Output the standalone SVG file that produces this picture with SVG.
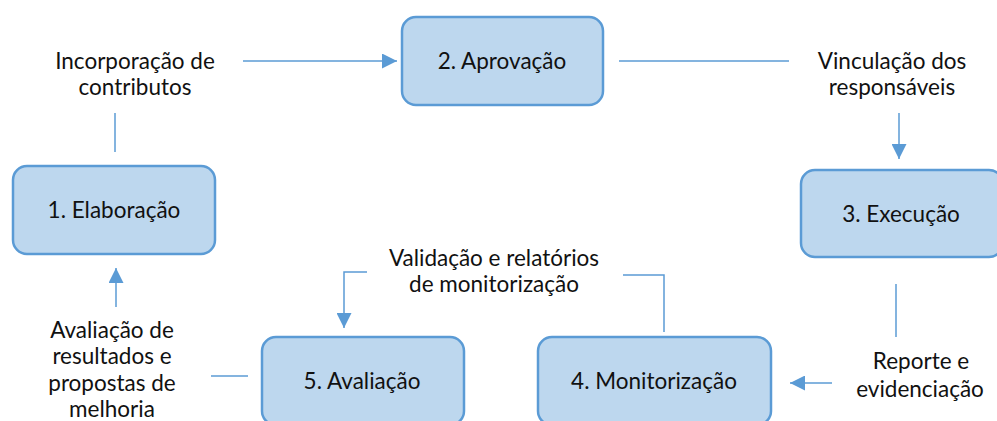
<svg xmlns="http://www.w3.org/2000/svg" width="997" height="421" viewBox="0 0 997 421">
<style>
.node rect{fill:#BDD7EE;stroke:#5B9BD5;stroke-width:2.5}
text{font-family:Lato,"Open Sans","Noto Sans",sans-serif;font-size:22.5px;fill:#111;text-anchor:middle}
.conn line,.conn polyline{stroke:#5B9BD5;stroke-width:1.5;fill:none}
</style>
<defs>
<marker id="ahb" viewBox="0 0 16 16" refX="16" refY="8" markerWidth="16" markerHeight="15" markerUnits="userSpaceOnUse" orient="auto">
<path d="M0,0 L16,8 L0,16 z" fill="#5B9BD5"/>
</marker>
</defs>
<g class="conn">
<line x1="115" y1="152" x2="115" y2="113"/>
<line x1="243" y1="61" x2="397" y2="61" marker-end="url(#ahb)"/>
<line x1="619" y1="61" x2="789" y2="61"/>
<line x1="899" y1="113" x2="899" y2="159" marker-end="url(#ahb)"/>
<line x1="896" y1="284" x2="896" y2="337"/>
<line x1="832" y1="383" x2="790" y2="383" marker-end="url(#ahb)"/>
<polyline points="664,332 664,275 623,275"/>
<polyline points="367,272 344,272 344,328" marker-end="url(#ahb)"/>
<line x1="248" y1="376" x2="211" y2="376"/>
<line x1="116" y1="307" x2="116" y2="268" marker-end="url(#ahb)"/>
</g>
<g id="n1" class="node"><rect x="13" y="166" width="202" height="88" rx="14"/><text x="114" y="218">1. Elaboração</text></g>
<g id="n2" class="node"><rect x="402" y="17" width="201" height="88" rx="14"/><text x="502" y="69">2. Aprovação</text></g>
<g id="n3" class="node"><rect x="801" y="170" width="202" height="87" rx="14"/><text x="901" y="222">3. Execução</text></g>
<g id="n4" class="node"><rect x="538" y="337" width="233" height="88" rx="14"/><text x="654" y="389">4. Monitorização</text></g>
<g id="n5" class="node"><rect x="262" y="337" width="202" height="88" rx="14"/><text x="362" y="389">5. Avaliação</text></g>
<g id="labels">
<text x="135" y="69">Incorporação de</text>
<text x="135" y="95">contributos</text>
<text x="892" y="69">Vinculação dos</text>
<text x="892" y="95">responsáveis</text>
<text x="494" y="266">Validação e relatórios</text>
<text x="494" y="292">de monitorização</text>
<text x="921" y="369">Reporte e</text>
<text x="920" y="397">evidenciação</text>
<text x="112" y="338">Avaliação de</text>
<text x="112" y="364">resultados e</text>
<text x="112" y="391">propostas de</text>
<text x="112" y="417">melhoria</text>
</g>
</svg>
